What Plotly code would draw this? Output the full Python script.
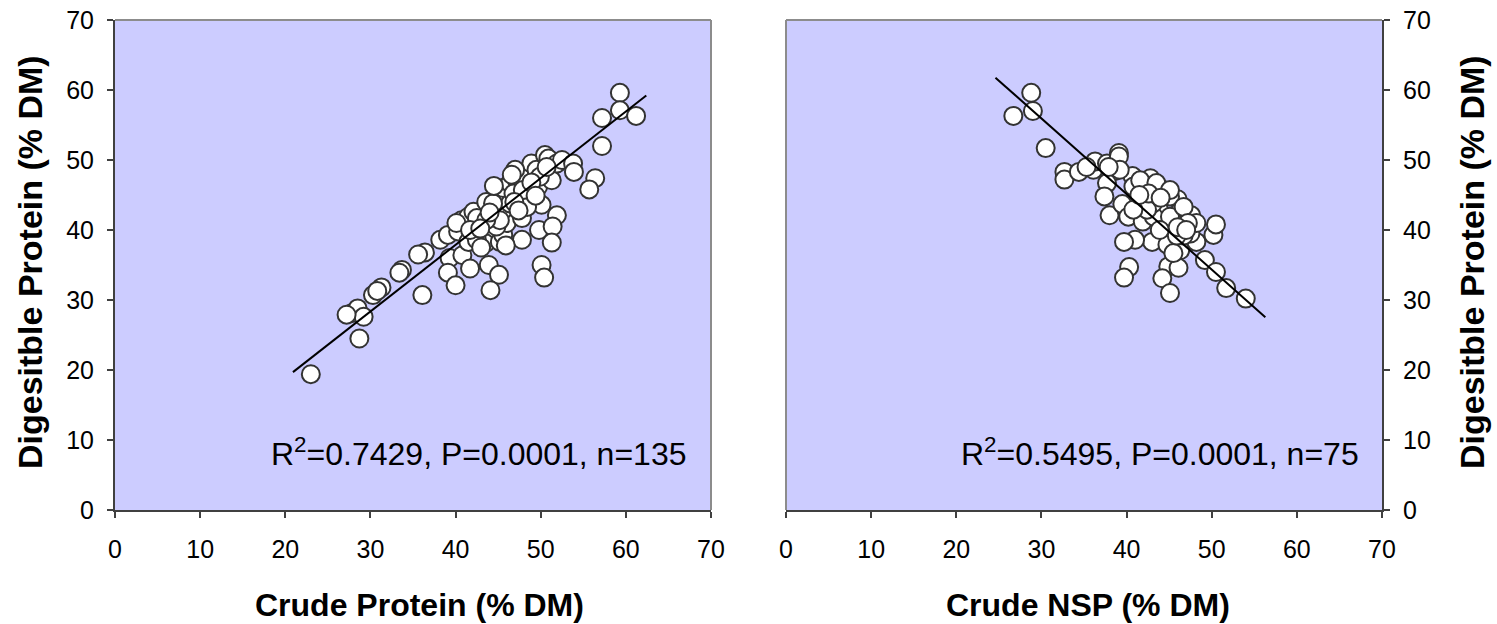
import plotly.graph_objects as go

# Left panel: Crude Protein vs Digestible Protein
cp_x = [23.0, 28.7, 27.8, 28.5, 29.2, 27.2, 30.3, 31.3, 30.8, 33.7, 33.4, 36.1, 36.4, 35.6,
        38.2, 39.1, 40.3, 39.3, 39.1, 40.0, 40.8, 41.7, 41.5, 40.7, 41.5, 42.1, 42.5, 43.6,
        43.9, 43.5, 43.9, 45.1, 44.1, 45.2, 45.6, 46.0, 45.6, 45.0, 45.6, 46.4, 47.2, 47.8,
        47.8, 47.4, 48.3, 48.9, 49.5, 49.7, 50.1, 49.8, 50.1, 50.4, 50.5, 50.9, 51.3, 51.9,
        51.4, 51.3, 51.9, 52.5, 53.8, 53.9, 56.4, 55.7, 57.2, 57.2, 59.3, 59.3, 61.2,
        42.5, 44.8, 46.4, 48.4, 48.7, 49.9, 50.7, 44.4, 45.2, 43.6, 40.1, 41.7, 46.8, 47.9, 47.0,
        42.9, 44.0, 46.9, 48.9, 43.0, 45.9, 47.4, 49.4, 44.5, 46.6]
cp_y = [19.4, 24.5, 28.1, 28.8, 27.6, 27.9, 30.7, 31.8, 31.3, 34.3, 33.9, 30.7, 36.8, 36.5,
        38.6, 39.3, 39.8, 36.0, 33.9, 32.1, 36.4, 34.5, 38.3, 41.4, 41.9, 42.6, 41.7, 44.0,
        39.5, 38.1, 35.0, 33.6, 31.4, 38.3, 39.3, 41.0, 42.9, 44.8, 46.0, 46.7, 47.1, 41.7,
        38.6, 44.5, 47.6, 49.5, 48.6, 46.2, 43.6, 40.0, 35.0, 33.2, 50.7, 50.2, 47.1, 42.1,
        40.5, 38.2, 49.5, 50.0, 49.5, 48.3, 47.4, 45.8, 52.0, 56.0, 59.6, 57.1, 56.3,
        38.6, 40.5, 43.8, 43.3, 45.7, 47.6, 49.0, 43.8, 41.4, 41.4, 41.0, 40.0, 45.2, 45.7, 48.6,
        40.2, 42.5, 44.0, 46.8, 37.5, 37.8, 42.8, 44.9, 46.3, 47.9]
cp_fit_slope, cp_fit_intercept = 0.952, -0.2
cp_fit_range = [20.9, 62.4]

# Right panel: Crude NSP vs Digestible Protein
nsp_x = [28.8, 29.0, 26.7, 30.5, 32.7, 32.7, 34.4, 36.1, 36.3, 37.7, 39.1, 39.1, 38.6, 37.7,
         37.4, 38.0, 39.5, 40.2, 40.7, 40.8, 42.0, 42.8, 43.9, 41.9, 41.9, 43.8, 46.0, 46.4,
         47.6, 45.7, 44.5, 43.0, 41.0, 39.7, 44.8, 46.3, 48.2, 47.5, 50.2, 50.5, 49.2, 50.5,
         51.7, 54.0, 40.3, 39.7, 44.9, 46.1, 44.2, 45.1, 44.3, 43.2, 45.1, 48.2, 46.7, 45.5,
         43.1, 45.1, 46.7, 42.4, 40.8, 39.2, 41.6, 43.5, 45.1, 47.2, 45.9, 43.9, 37.9, 35.3,
         42.6, 44.0, 46.0, 47.0, 41.5]
nsp_y = [59.6, 57.0, 56.3, 51.7, 48.3, 47.2, 48.3, 48.6, 49.8, 49.5, 51.0, 50.5, 48.4, 46.7,
         44.8, 42.1, 43.7, 41.9, 47.7, 46.2, 46.0, 47.4, 46.0, 44.0, 41.2, 42.9, 44.4, 42.9,
         42.1, 40.9, 39.5, 38.3, 38.6, 38.3, 37.9, 37.1, 38.3, 39.5, 39.3, 40.8, 35.7, 34.0,
         31.7, 30.2, 34.7, 33.2, 34.8, 34.6, 33.1, 31.0, 40.7, 41.9, 41.9, 41.0, 39.2, 36.7,
         43.8, 44.8, 43.3, 42.9, 42.9, 48.6, 47.1, 46.7, 45.7, 41.0, 39.2, 40.0, 49.0, 49.0,
         45.2, 44.6, 40.4, 40.0, 45.0]
nsp_fit_slope, nsp_fit_intercept = -1.079, 88.3
nsp_fit_range = [24.6, 56.3]

axis_ticks = [0, 10, 20, 30, 40, 50, 60, 70]

FONT = "Liberation Sans, Arial, sans-serif"
BG = "#CCCCFF"
DARK = "#404040"
GRAY = "#8c8c8c"

marker = dict(size=18, color="white", line=dict(color="#333333", width=2))

fig = go.Figure()
fig.add_trace(go.Scatter(x=cp_x, y=cp_y, mode="markers", marker=marker,
                         xaxis="x", yaxis="y", showlegend=False))
fig.add_trace(go.Scatter(x=cp_fit_range,
                         y=[cp_fit_slope * v + cp_fit_intercept for v in cp_fit_range],
                         mode="lines", line=dict(color="black", width=2),
                         xaxis="x", yaxis="y", showlegend=False))
fig.add_trace(go.Scatter(x=nsp_x, y=nsp_y, mode="markers", marker=marker,
                         xaxis="x2", yaxis="y2", showlegend=False))
fig.add_trace(go.Scatter(x=nsp_fit_range,
                         y=[nsp_fit_slope * v + nsp_fit_intercept for v in nsp_fit_range],
                         mode="lines", line=dict(color="black", width=2),
                         xaxis="x2", yaxis="y2", showlegend=False))

W, H = 1497, 624
def px(x):
    return x / W
def py(y):
    return 1 - y / H

ydom = [py(510), py(20)]
common = dict(range=[0, 70], tickvals=axis_ticks, showgrid=False, zeroline=False,
              showline=True, linecolor=DARK, linewidth=2, ticks="outside", ticklen=6,
              tickcolor=DARK, tickwidth=1.5, automargin=False,
              tickfont=dict(family=FONT, size=25, color="black"))

fig.update_layout(
    width=W, height=H, margin=dict(l=0, r=0, t=0, b=0, autoexpand=False),
    paper_bgcolor="white", plot_bgcolor=BG,
    xaxis=dict(domain=[px(115), px(711)], anchor="y", ticklabelstandoff=10, **common),
    yaxis=dict(domain=ydom, anchor="x", ticklabelstandoff=8, **common),
    xaxis2=dict(domain=[px(786), px(1382)], anchor="y2", ticklabelstandoff=10, **common),
    yaxis2=dict(domain=ydom, anchor="x2", side="right", ticklabelstandoff=8, **common),
)

# gray frame edges (top/right of left panel, top/left of right panel)
for xr, yr, segs in [("x domain", "y domain", [(0, 1, 1, 1), (1, 0, 1, 1)]),
                     ("x2 domain", "y2 domain", [(0, 1, 1, 1), (0, 0, 0, 1)])]:
    for x0, y0, x1, y1 in segs:
        fig.add_shape(type="line", xref=xr, yref=yr, x0=x0, y0=y0, x1=x1, y1=y1,
                      line=dict(color=GRAY, width=2), layer="above")

ann_font = dict(family=FONT, size=32, color="black")
title_font = dict(family=FONT, size=32, color="black")
ytitle_font = dict(family=FONT, size=34, color="black")
fig.add_annotation(text="R<sup>2</sup>=0.7429, P=0.0001, n=135", xref="paper", yref="paper",
                   x=px(688), y=py(452), xanchor="right", yanchor="middle",
                   showarrow=False, font=ann_font)
fig.add_annotation(text="R<sup>2</sup>=0.5495, P=0.0001, n=75", xref="paper", yref="paper",
                   x=px(1361), y=py(452), xanchor="right", yanchor="middle",
                   showarrow=False, font=ann_font)
fig.add_annotation(text="<b>Crude Protein (% DM)</b>", xref="paper", yref="paper",
                   x=px(419), y=py(605), xanchor="center", yanchor="middle",
                   showarrow=False, font=title_font)
fig.add_annotation(text="<b>Crude NSP (% DM)</b>", xref="paper", yref="paper",
                   x=px(1088), y=py(605), xanchor="center", yanchor="middle",
                   showarrow=False, font=title_font)
fig.add_annotation(text="<b>Digesitble Protein (% DM)</b>", xref="paper", yref="paper",
                   x=px(30), y=py(262), xanchor="center", yanchor="middle", textangle=-90,
                   showarrow=False, font=ytitle_font)
fig.add_annotation(text="<b>Digesitble Protein (% DM)</b>", xref="paper", yref="paper",
                   x=px(1472), y=py(262), xanchor="center", yanchor="middle", textangle=-90,
                   showarrow=False, font=ytitle_font)

fig.write_html("out.html")
